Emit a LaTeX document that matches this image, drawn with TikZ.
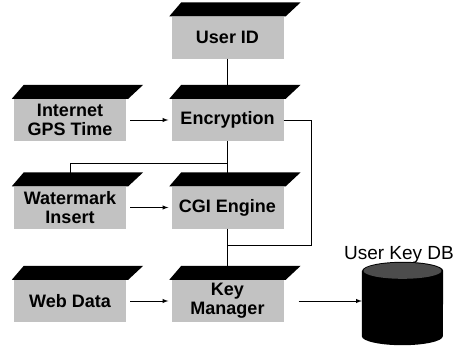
\documentclass[tikz,border=0pt]{standalone}
\usepackage{fontspec}
\setmainfont{Liberation Sans}
\usetikzlibrary{arrows}
\tikzset{
blockbox/.style={
  rectangle,
  fill=black!24,
  minimum width=112pt,
  minimum height=42pt,
  inner sep=0pt,
  align=center,
  font=\fontsize{18}{19}\selectfont\bfseries
  },
dbbox/.style={
  rectangle,
  minimum width=81pt,
  minimum height=83pt,
  inner sep=0pt
  },
link/.style={line width=1pt}
}

\begin{document}
\begin{tikzpicture}[>=latex, x=1pt, y=-1pt]
\useasboundingbox (0,0) rectangle (466,351);

% boxes
\node[blockbox] (uid)    at (227.5,37.5) {User ID};
\node[blockbox] (inet)   at (70,120)     {Internet\\GPS Time};
\node[blockbox] (enc)    at (227.5,120)  {Encryption};
\node[blockbox] (wmark)  at (70,207.5)   {Watermark\\Insert};
\node[blockbox] (cgi)    at (227.5,207.5) {CGI Engine};
\node[blockbox] (web)    at (70,301)     {Web Data};
\node[blockbox] (keymgr) at (227.5,301)  {Key\\Manager};

% database
\node[dbbox] (db) at (402.5,303.5) {};
\fill ([yshift=-9pt]db.north west) -- ([yshift=9pt]db.south west)
  arc[start angle=180, end angle=360, x radius=40.5pt, y radius=9pt]
  -- ([yshift=-9pt]db.north east)
  arc[start angle=0, end angle=180, x radius=40.5pt, y radius=9pt] -- cycle;
\fill[black!70] ([yshift=-9pt]db.north) ellipse[x radius=39pt, y radius=8pt];
\node[font=\fontsize{19}{20}\selectfont] (dblabel) at (399,255) {User Key DB};

\coordinate (split) at (227.5,163);
\coordinate (merge) at (227.5,245);

% connectors
\draw[link] (uid.south) -- (enc.north);
\draw[link] (enc.south) -- (cgi.north);
\draw[link] (split) -| (wmark.north);
\draw[link] (enc.east) -- ++(28,0) |- (merge);
\draw[link] (cgi.south) -- (keymgr.north);

\draw[link,->,shorten <=4pt,shorten >=3pt] (inet.east) -- (enc.west);
\draw[link,->,shorten <=4pt,shorten >=3pt] (wmark.east) -- (cgi.west);
\draw[link,->,shorten <=4pt,shorten >=3pt] (web.east) -- (keymgr.west);
\draw[link,->,shorten <=15pt] (keymgr.east) -- (keymgr.east -| db.west);

% black tops of the boxes
\foreach \n in {uid,inet,enc,wmark,cgi,web,keymgr}
  \fill ([xshift=-2pt]\n.north west) -- ([xshift=10pt,yshift=14pt]\n.north west)
    -- ([xshift=17pt,yshift=14pt]\n.north east) -- ([xshift=2pt]\n.north east) -- cycle;
\end{tikzpicture}
\end{document}
